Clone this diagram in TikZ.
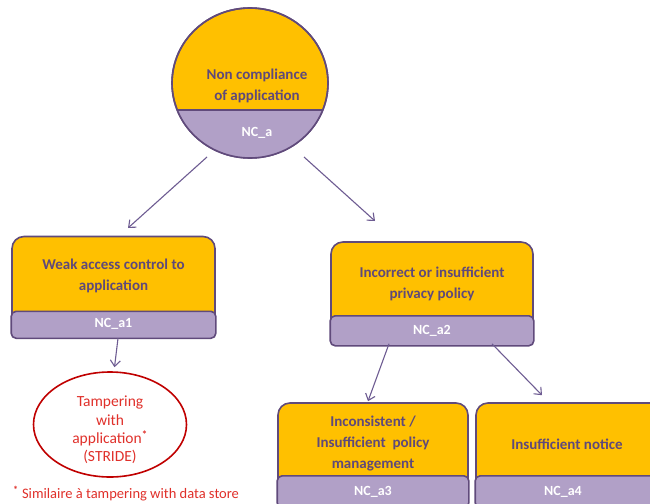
\documentclass[tikz,border=0pt]{standalone}
\usepackage{fontspec}
\setmainfont{Carlito}
\usetikzlibrary{arrows.meta,shapes.geometric,calc}
\definecolor{orng}{HTML}{FFC000}
\definecolor{lav}{HTML}{B1A0C7}
\definecolor{frame}{HTML}{604A7B}
\definecolor{ink}{HTML}{5F497A}
\definecolor{link}{HTML}{6E5C92}
\definecolor{redline}{HTML}{C00000}
\definecolor{redtext}{HTML}{E0302A}
\tikzset{
  box/.style={draw=frame, line width=1.6pt, fill=orng, rounded corners=12pt, inner sep=0pt},
  lowerpart/.style={draw=frame, line width=1.6pt, fill=lav, rounded corners=5pt},
  ttl/.style={text=ink, font=\bfseries\fontsize{15}{21}\selectfont, align=center, inner sep=0pt},
  nclabel/.style={text=white, font=\bfseries\fontsize{14}{15}\selectfont, inner sep=0pt},
  arr/.style={draw=link, line width=1.1pt, -{Straight Barb[length=6pt,width=10pt,line width=1.1pt]}},
  threat/.style={ellipse, draw=redline, line width=1.6pt, fill=white, minimum width=153pt, minimum height=105pt, inner sep=0pt},
  threattxt/.style={text=redtext, font=\fontsize{15.5}{18.3}\selectfont, align=center, inner sep=0pt}
}
\begin{document}
\begin{tikzpicture}[x=1pt,y=-1pt]
\clip (0,0) rectangle (650,503);
\fill[white] (0,0) rectangle (650,503);

% root goal
\node[ellipse, draw=frame, line width=1.6pt, fill=orng, minimum width=156pt, minimum height=150pt, inner sep=0pt] (c0) at (250,83) {};
\begin{scope}
  \clip (250,83) ellipse [x radius=78pt, y radius=75pt];
  \fill[lav] (160,110) rectangle (340,170);
  \draw[frame, line width=1.4pt] (160,110) -- (340,110);
\end{scope}
\draw[frame, line width=1.6pt] (250,83) ellipse [x radius=78pt, y radius=75pt];
\node[ttl] (c0t) at (257,86) {Non compliance\\of application};
\node[nclabel] (c0n) at (257,133) {NC\_a};

% sub-goal 1
\node[box, minimum width=203pt, minimum height=101pt] (b1) at (113.5,287) {};
\path[lowerpart] ([yshift=27pt]b1.south west) rectangle (b1.south east);
\node[ttl] (b1t) at (113.5,275.5) {Weak access control to\\application};
\node[nclabel] (b1n) at (113.5,324) {NC\_a1};

% sub-goal 2
\node[box, minimum width=202pt, minimum height=103pt] (b2) at (432,293.5) {};
\path[lowerpart] ([yshift=30pt]b2.south west) rectangle (b2.south east);
\node[ttl] (b2t) at (432,284) {Incorrect or insufficient\\privacy policy};
\node[nclabel] (b2n) at (432,331) {NC\_a2};

% sub-goal 3
\node[box, minimum width=190pt, minimum height=104pt] (b3) at (373,455) {};
\path[lowerpart] ([yshift=32pt]b3.south west) rectangle (b3.south east);
\node[ttl] (b3t) at (373,444) {Inconsistent /\\Insufficient\ \ policy\\management};
\node[nclabel] (b3n) at (373,492) {NC\_a3};

% sub-goal 4
\node[box, minimum width=190pt, minimum height=104pt] (b4) at (571,455) {};
\path[lowerpart] ([yshift=32pt]b4.south west) rectangle (b4.south east);
\node[ttl] (b4t) at (567,444) {Insufficient notice};
\node[nclabel] (b4n) at (563,492) {NC\_a4};

% threat
\node[threat] (t1) at (110,424.5) {};
\node[threattxt] (t1t) at (110,430) {Tampering\\with\\application\textsuperscript{\textbf{*}}\\(STRIDE)};
\node[text=redtext, font=\fontsize{14.5}{16}\selectfont, anchor=west, inner sep=0pt] (fn) at (13,493.5) {\textsuperscript{\textbf{*}} Similaire à tampering with\ data store};

% links
\coordinate (e1) at (128,228);
\coordinate (e2) at (375,221);
\draw[arr] (207,157) -- (e1);
\draw[arr] (304,157) -- (e2);
\draw[arr] ([xshift=4.5pt]b1.south) -- ([xshift=4.5pt,yshift=4pt]t1.north);
\draw[arr] ($(b2.south)+(-43,-2)$) -- ($(b3.north)+(-5,-1)$);
\draw[arr] ($(b2.south)+(60,-2)$) -- ($(b4.north)+(-29,-7)$);
\end{tikzpicture}
\end{document}
